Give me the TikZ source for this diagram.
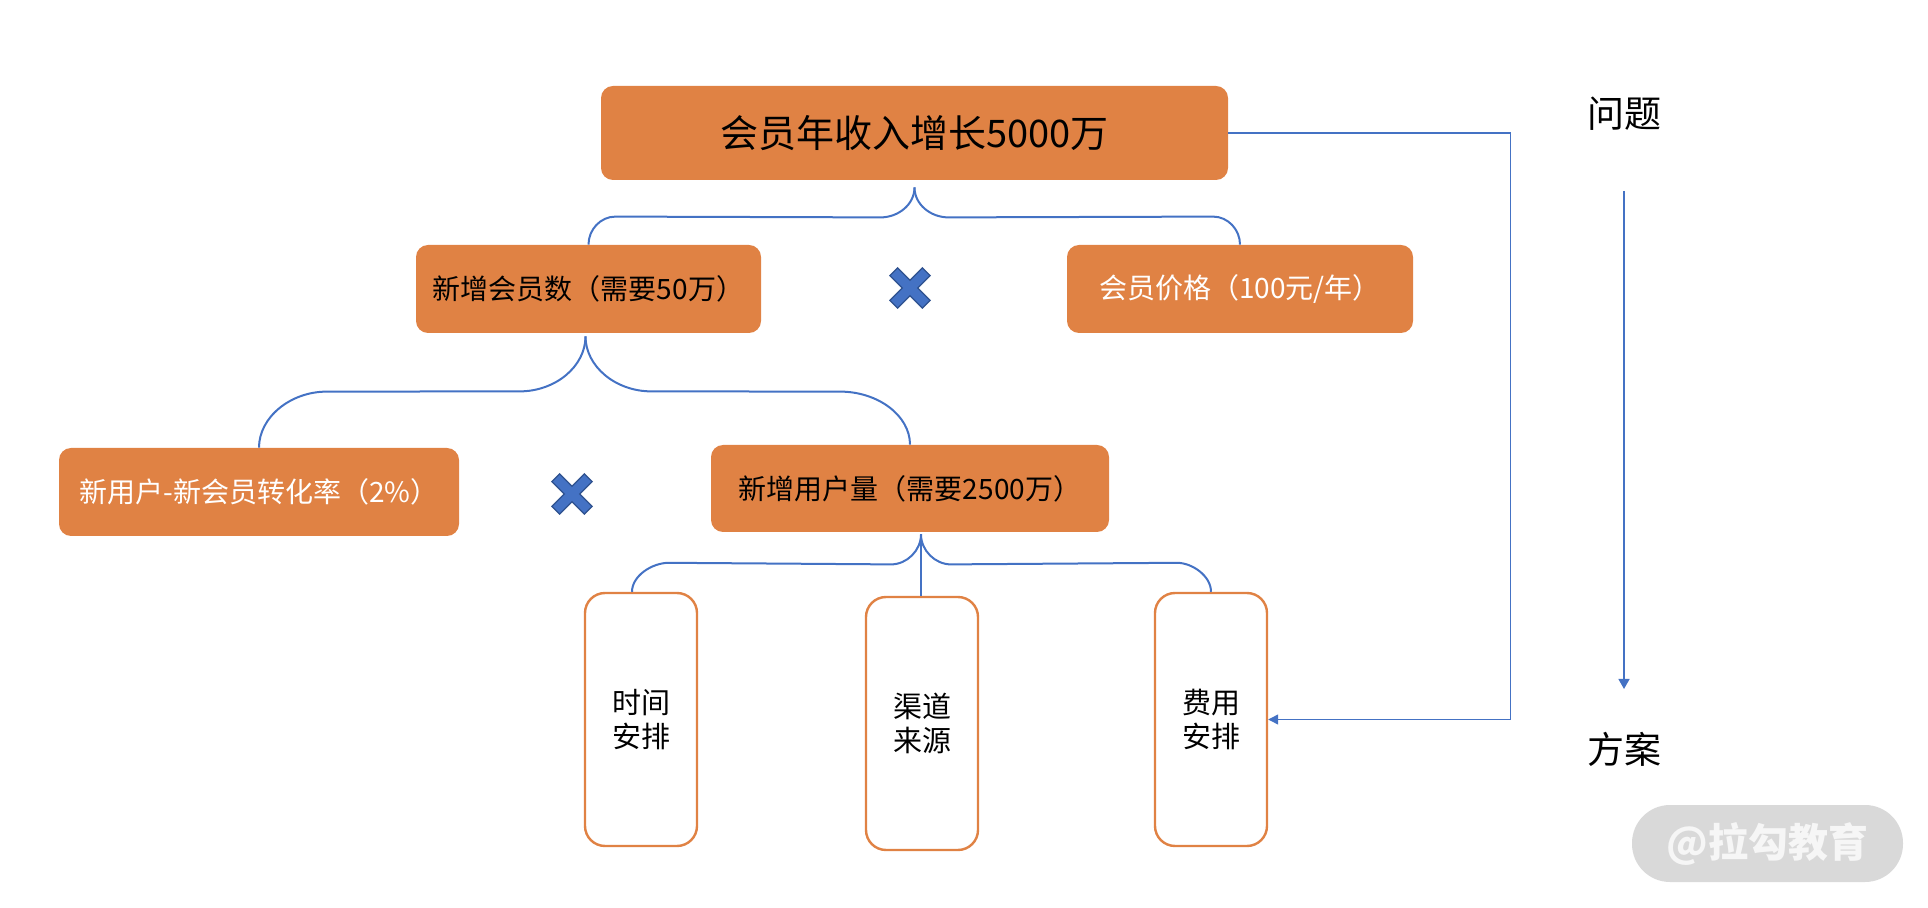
\documentclass[tikz,border=0pt]{standalone}
\usepackage{fontspec}
\setmainfont{Noto Sans CJK SC}
\usetikzlibrary{arrows.meta,calc}
\definecolor{org}{RGB}{224,130,68}
\definecolor{lnk}{RGB}{68,114,196}
\definecolor{xb}{RGB}{47,82,143}
\definecolor{wmg}{RGB}{217,217,217}
\definecolor{wmt}{RGB}{246,246,246}
\tikzset{
 obox/.style={fill=org, draw=none, rounded corners=6pt, inner sep=0pt, align=center, minimum height=44pt, font=\fontsize{14pt}{17pt}\selectfont},
 wbox/.style={fill=white, draw=org, line width=1.2pt, rounded corners=10pt, inner sep=0pt, minimum width=56pt, minimum height=126.5pt, align=center, font=\fontsize{14.5pt}{17pt}\selectfont},
 brace/.style={draw=lnk, line width=1pt},
 link/.style={draw=lnk, line width=0.65pt},
 xm/.style={fill=lnk, draw=xb, line width=0.6pt},
 side/.style={inner sep=0pt, font=\fontsize{18.5pt}{22pt}\selectfont},
}
\newcommand\mulmark[1]{\begin{scope}[shift={#1},rotate=45]
 \filldraw[xm] (5.5,5.5) -- (23,5.5) -- (23,-5.5) -- (5.5,-5.5) -- (5.5,-23) -- (-5.5,-23) -- (-5.5,-5.5) -- (-23,-5.5) -- (-23,5.5) -- (-5.5,5.5) -- (-5.5,23) -- (5.5,23) -- cycle;
\end{scope}}
\begin{document}
\begin{tikzpicture}[x=0.5pt,y=-0.5pt]
\useasboundingbox (0,0) rectangle (1928,908);
% boxes
\node[obox, minimum width=313.5pt, minimum height=47pt, font=\fontsize{19pt}{22pt}\selectfont] (top) at (914.5,133) {会员年收入增长5000万};
\node[obox, minimum width=172.5pt] (n2) at (588.5,289) {新增会员数（需要50万）};
\node[obox, minimum width=173pt, text=white] (n3) at (1240,289) {会员价格（100元/年）};
\node[obox, minimum width=200pt, text=white] (n4) at (259,492) {新用户-新会员转化率（2\%）};
\node[obox, minimum width=199pt, minimum height=43.5pt] (n5) at (910,488.5) {新增用户量（需要2500万）};
\node[wbox] (b1) at (641,719.5) {时间\\安排};
\node[wbox] (b2) at (922,723.5) {渠道\\来源};
\node[wbox] (b3) at (1211,719.5) {费用\\安排};
% multiplication marks
\mulmark{(910,288)}
\mulmark{(572,494)}
% brace 1
\draw[brace] ($(top.south)+(0,7)$) coordinate (c1)
  .. controls +(0,17) and +(18,0) .. ++(-34,30)
  -- ($(n2.north)+(27,-28)$)
  .. controls +(-15,0) and +(0,-15) .. (n2.north);
\draw[brace] (c1) .. controls +(0,17) and +(-18,0) .. ++(34,30)
  -- ($(n3.north)+(-27,-28)$)
  .. controls +(15,0) and +(0,-15) .. (n3.north);
% brace 2
\draw[brace] ($(n2.south)+(-3,3)$) coordinate (c2)
  .. controls +(0,30) and +(36,0) .. ++(-66,55)
  -- ($(n4.north)+(68,-56)$)
  .. controls +(-37,0) and +(0,-30) .. (n4.north);
\draw[brace] (c2) .. controls +(0,30) and +(-36,0) .. ++(66,55)
  -- ($(n5.north)+(-70,-53)$)
  .. controls +(38,0) and +(0,-29) .. (n5.north);
% brace 3
\draw[brace] ($(n5.south)+(11,2)$) coordinate (c3)
  .. controls +(0,16) and +(16,0) .. ++(-30,30)
  -- ($(b1.north)+(28,-29)$)
  .. controls +(-17,0) and +(0,-16) .. ($(b1.north)+(-9,0)$);
\draw[brace] (c3) .. controls +(0,16) and +(-16,0) .. ++(30,30)
  -- ($(b3.north)+(-34,-29)$)
  .. controls +(15,0) and +(0,-16) .. (b3.north);
\draw[brace] (c3) -- (c3 |- b2.north);
% feedback connector
\draw[link,-{Triangle[width=5pt,length=5pt]}] (top.east) -- ++(282,0) |- (b3.east);
% side labels
\node[side] (q) at (1624,114) {问题};
\node[side] (s) at (1624,749) {方案};
\draw[link,-{Triangle[width=5.5pt,length=5pt]}] ($(q)+(0,77)$) -- ($(s)+(0,-60)$);
% watermark
\node[fill=wmg, rounded corners=19pt, minimum width=135.5pt, minimum height=38.5pt, inner sep=0pt, text=wmt, font=\fontsize{20pt}{24pt}\selectfont\bfseries] (wm) at (1767.5,843.5) {@拉勾教育};
\end{tikzpicture}
\end{document}
